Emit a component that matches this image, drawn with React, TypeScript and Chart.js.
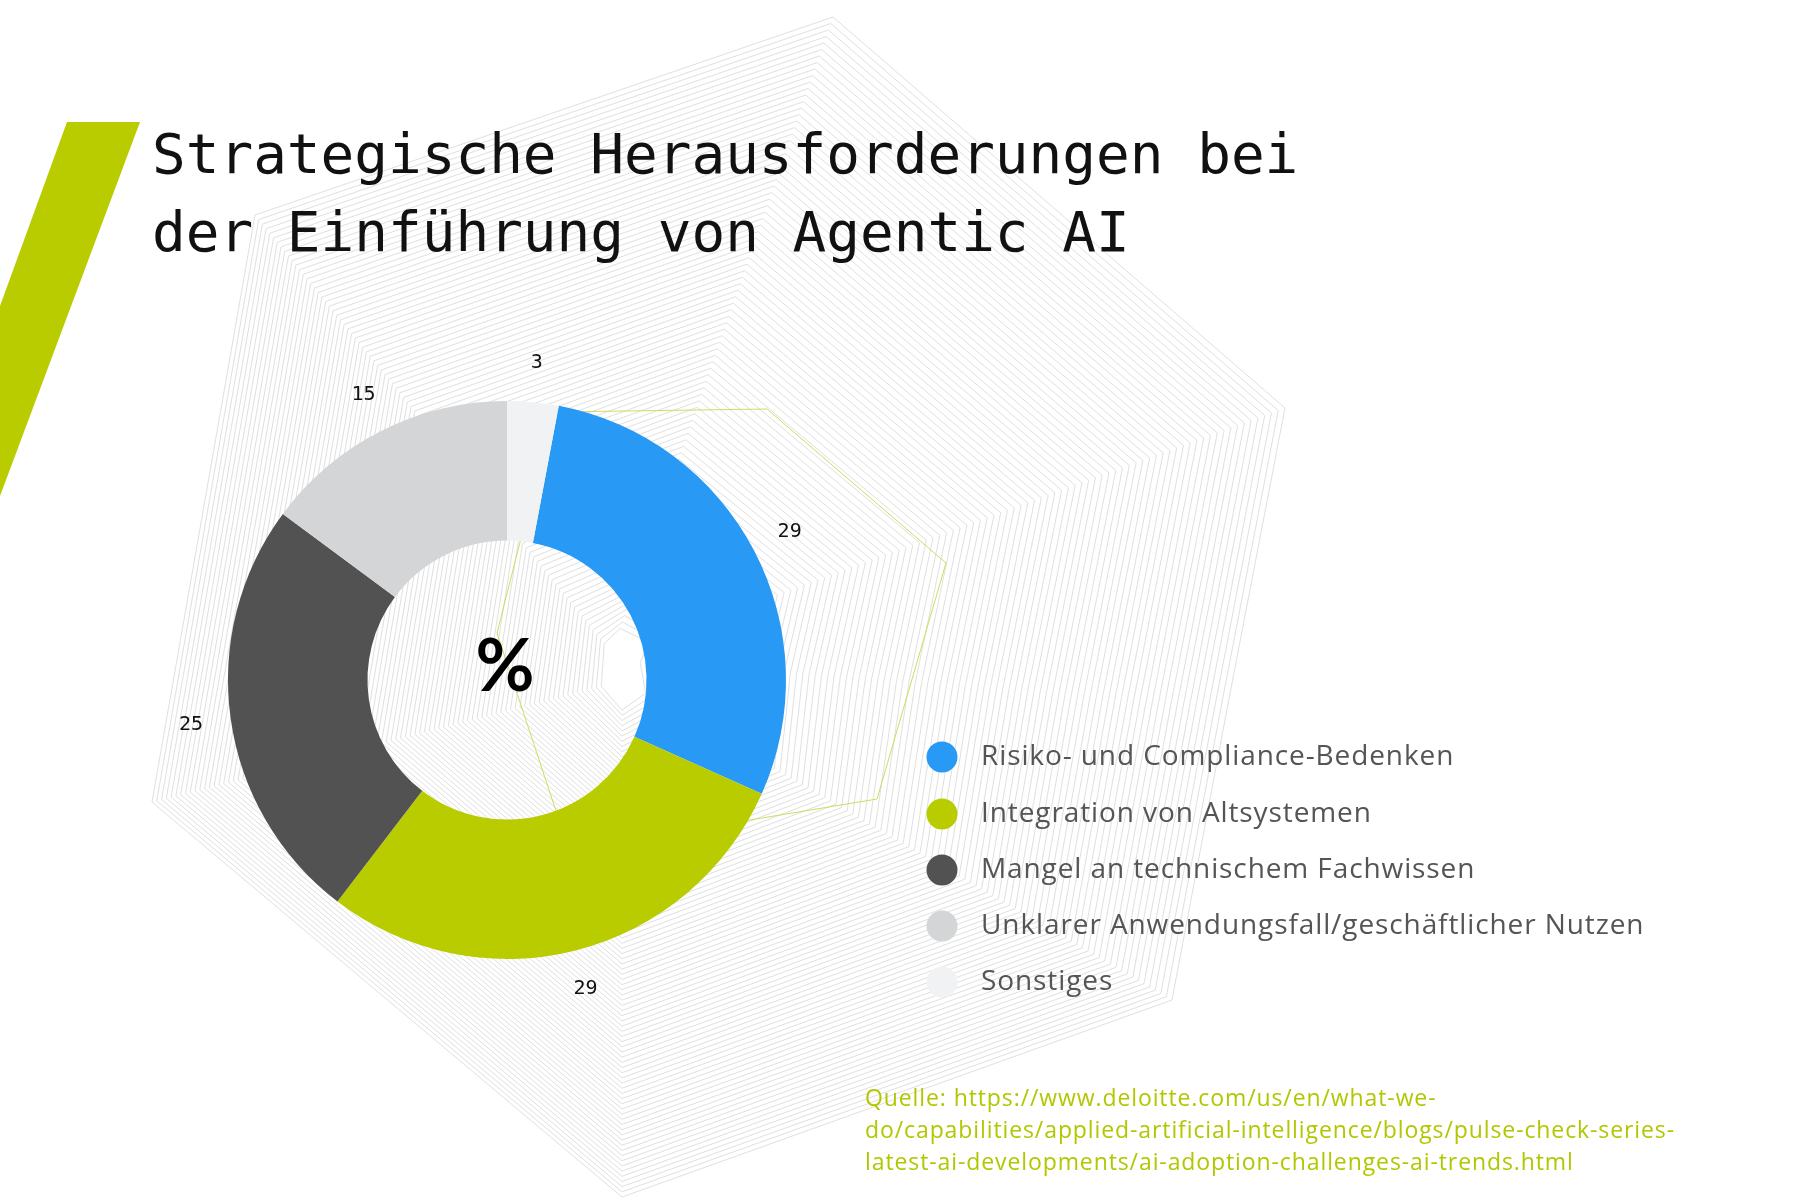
import React, { useEffect, useRef } from "react";
import { Chart, registerables } from "chart.js";

Chart.register(...registerables);

const titleLines = ["Strategische Herausforderungen bei", "der Einführung von Agentic AI"];
const categories = [
  "Risiko- und Compliance-Bedenken",
  "Integration von Altsystemen",
  "Mangel an technischem Fachwissen",
  "Unklarer Anwendungsfall/geschäftlicher Nutzen",
  "Sonstiges",
];
const values = [29, 29, 25, 15, 3];
const colors = ["#2899f5", "#b8cc00", "#525252", "#d4d5d7", "#f1f2f4"];
const centerText = "%";
const sourceLines = [
  "Quelle: https://www.deloitte.com/us/en/what-we-",
  "do/capabilities/applied-artificial-intelligence/blogs/pulse-check-series-",
  "latest-ai-developments/ai-adoption-challenges-ai-trends.html",
];

// decorative background geometry
const outerPoly = [[833, 17], [1285, 408], [1228, 704], [1172, 1000], [622, 1197], [152, 802], [255, 215]];
const innerPoly = [[618, 635], [642, 645], [634, 662], [640, 690], [622, 705], [606, 685], [608, 648]];
const accentPoly = [[553, 412], [767, 409], [946, 563], [877, 799], [750, 820], [565, 838], [497, 633]];
const barPoly = [[67, 122], [140, 122], [0, 496], [0, 306]];

const backgroundPlugin = {
  id: "bgDeco",
  beforeDraw(chart: any) {
    const ctx = chart.ctx;
    ctx.save();
    ctx.fillStyle = "#ffffff";
    ctx.fillRect(0, 0, chart.width, chart.height);
    const N = 95;
    ctx.strokeStyle = "#e0e0e0";
    ctx.lineWidth = 1;
    for (let k = 0; k < N; k++) {
      const t = k / N;
      ctx.beginPath();
      outerPoly.forEach((p, i) => {
        const q = innerPoly[i];
        const x = p[0] + (q[0] - p[0]) * t;
        const y = p[1] + (q[1] - p[1]) * t;
        if (i === 0) ctx.moveTo(x, y);
        else ctx.lineTo(x, y);
      });
      ctx.closePath();
      ctx.stroke();
    }
    ctx.strokeStyle = "#cfdc60";
    ctx.beginPath();
    accentPoly.forEach((p, i) => (i === 0 ? ctx.moveTo(p[0], p[1]) : ctx.lineTo(p[0], p[1])));
    ctx.closePath();
    ctx.stroke();
    ctx.fillStyle = "#b8cc00";
    ctx.beginPath();
    barPoly.forEach((p, i) => (i === 0 ? ctx.moveTo(p[0], p[1]) : ctx.lineTo(p[0], p[1])));
    ctx.closePath();
    ctx.fill();
    ctx.restore();
  },
};

const overlayPlugin = {
  id: "overlay",
  afterDraw(chart: any) {
    const ctx = chart.ctx;
    ctx.save();
    // value labels outside each arc
    const meta = chart.getDatasetMeta(0);
    ctx.font = "20px 'DejaVu Sans Mono'";
    ctx.fillStyle = "#111111";
    ctx.textAlign = "center";
    ctx.textBaseline = "middle";
    meta.data.forEach((arc: any, i: number) => {
      const p = arc.getProps(["x", "y", "startAngle", "endAngle", "outerRadius"], true);
      const mid = (p.startAngle + p.endAngle) / 2;
      const r = p.outerRadius + 40;
      ctx.fillText(String(values[i]), p.x + Math.cos(mid) * r, p.y + Math.sin(mid) * r);
    });
    // center text
    const a0 = meta.data[0];
    ctx.font = "bold 72px 'Lato'";
    ctx.fillStyle = "#000000";
    ctx.textBaseline = "alphabetic";
    ctx.fillText(centerText, a0.x - 2, a0.y + 11);
    // title
    ctx.textAlign = "left";
    ctx.font = "56px 'DejaVu Sans Mono'";
    ctx.fillStyle = "#111111";
    titleLines.forEach((t, i) => ctx.fillText(t, 152, 173 + i * 78));
    // legend
    const rowY = [757, 814, 870, 926, 982];
    (ctx as any).letterSpacing = "0.9px";
    categories.forEach((c, i) => {
      ctx.fillStyle = colors[i];
      ctx.beginPath();
      ctx.arc(942, rowY[i], 15.5, 0, Math.PI * 2);
      ctx.fill();
      ctx.fillStyle = "#555555";
      ctx.font = "28px 'Open Sans'";
      ctx.textBaseline = "middle";
      ctx.fillText(c, 981, rowY[i]);
    });
    // source
    (ctx as any).letterSpacing = "0.9px";
    ctx.textBaseline = "alphabetic";
    ctx.font = "23px 'Open Sans'";
    ctx.fillStyle = "#b3c700";
    sourceLines.forEach((s, i) => ctx.fillText(s, 865, 1106 + i * 32));
    (ctx as any).letterSpacing = "0px";
    ctx.restore();
  },
};

export default function App() {
  const ref = useRef<HTMLCanvasElement | null>(null);
  useEffect(() => {
    if (!ref.current) return;
    const total = values.reduce((a, b) => a + b, 0);
    const chart = new Chart(ref.current, {
      type: "doughnut",
      data: {
        labels: categories,
        datasets: [
          {
            data: values,
            backgroundColor: colors,
            borderWidth: 0,
            hoverOffset: 0,
          },
        ],
      },
      options: {
        responsive: false,
        devicePixelRatio: 1,
        animation: false,
        events: [],
        cutout: "50%",
        rotation: (values[values.length - 1] / total) * 360,
        layout: { padding: { left: 228, right: 1014, top: 401, bottom: 241 } },
        plugins: { legend: { display: false }, tooltip: { enabled: false }, title: { display: false } },
      },
      plugins: [backgroundPlugin, overlayPlugin],
    } as any);
    return () => chart.destroy();
  }, []);
  return (
    <div style={{ position: "fixed", left: 0, top: 0, width: 1800, height: 1200, background: "#fff" }}>
      <canvas ref={ref} width={1800} height={1200} style={{ display: "block", width: 1800, height: 1200 }} />
    </div>
  );
}
